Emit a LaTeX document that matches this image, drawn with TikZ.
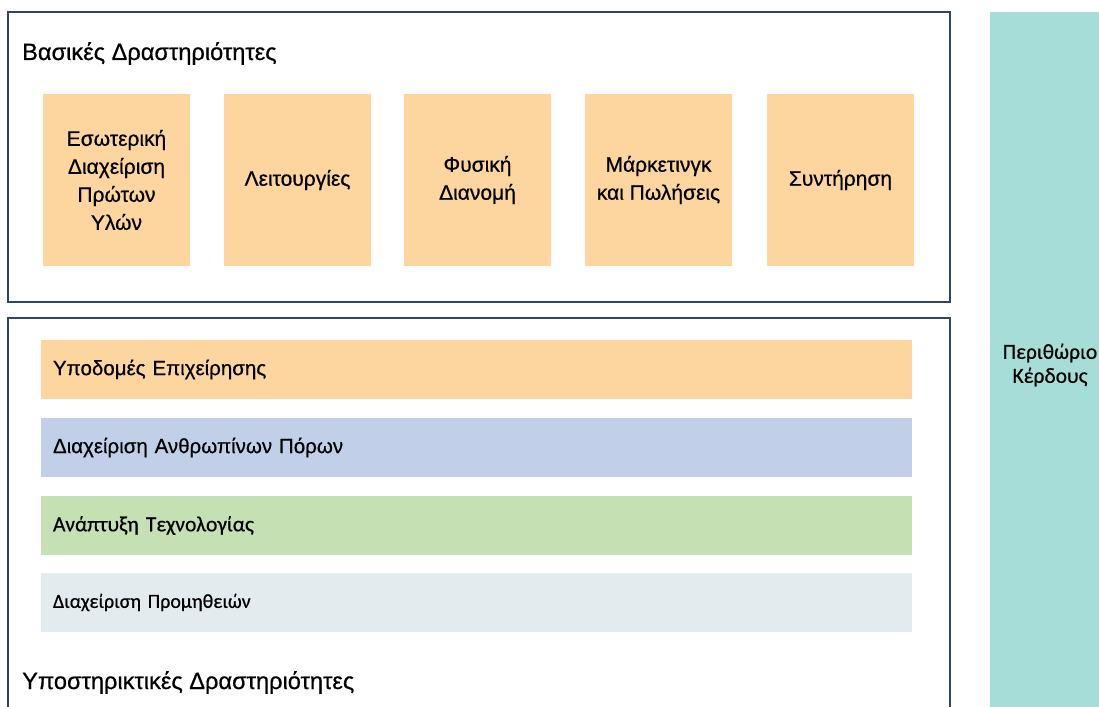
\documentclass[tikz,border=0pt]{standalone}
\usepackage{fontspec}
\setmainfont[FakeBold=0.6]{Liberation Sans}
\newfontfamily\calibri[FakeBold=0.6]{Carlito}
\definecolor{framecol}{HTML}{2F4468}
\definecolor{actorange}{HTML}{FDD59E}
\definecolor{hrblue}{HTML}{C2CFE9}
\definecolor{techgreen}{HTML}{C5E0B3}
\definecolor{procgray}{HTML}{E2EBEE}
\definecolor{marginteal}{HTML}{A6DDD8}
\begin{document}
\begin{tikzpicture}[x=1pt,y=-1pt,
    activity/.style={rectangle,fill=actorange,minimum width=147pt,minimum height=172pt,inner sep=0pt,align=center,font=\fontsize{21}{28}\selectfont},
    support/.style={rectangle,minimum height=59pt,text width=847pt,inner xsep=12pt,inner ysep=0pt,align=left,font=\fontsize{20.5}{24}\selectfont},
    group/.style={rectangle,draw=framecol,line width=2pt,inner sep=0pt},
    heading/.style={anchor=base west,inner sep=0pt,font=\fontsize{23.6}{28}\selectfont}]
  \useasboundingbox (0,0) rectangle (1099,706);
  % frames
  \node[group,minimum width=942pt,minimum height=290pt] (primary) at (479,157) {};
  \node[group,minimum width=942pt,minimum height=412pt] (secondary) at (479,524) {};
  \node[rectangle,fill=marginteal,minimum width=120pt,minimum height=706pt,font=\calibri\fontsize{21.5}{24}\selectfont,align=center] (margin) at (1050,365) {Περιθώριο\\Κέρδους};
  \node[heading] (primtitle) at (22,60) {Βασικές Δραστηριότητες};
  \node[heading] (sectitle) at (22,689) {Υποστηρικτικές Δραστηριότητες};
  % primary activities
  \node[activity] (inbound) at (116.5,180) {Εσωτερική\\Διαχείριση\\Πρώτων\\Υλών};
  \node[activity] (operations) at (297.5,180) {Λειτουργίες};
  \node[activity] (outbound) at (477.5,180) {Φυσική\\Διανομή};
  \node[activity] (marketing) at (658.5,180) {Μάρκετινγκ\\και Πωλήσεις};
  \node[activity] (service) at (840.5,180) {Συντήρηση};
  % support activities
  \node[support,fill=actorange] (infra) at (476.5,369.5) {Υποδομές Επιχείρησης};
  \node[support,fill=hrblue] (hrm) at (476.5,447.5) {Διαχείριση Ανθρωπίνων Πόρων};
  \node[support,fill=techgreen,font=\calibri\fontsize{21.5}{24}\selectfont] (tech) at (476.5,525.5) {Ανάπτυξη Τεχνολογίας};
  \node[support,fill=procgray,font=\calibri\fontsize{20}{24}\selectfont] (procure) at (476.5,602.5) {Διαχείριση Προμηθειών};
\end{tikzpicture}
\end{document}
